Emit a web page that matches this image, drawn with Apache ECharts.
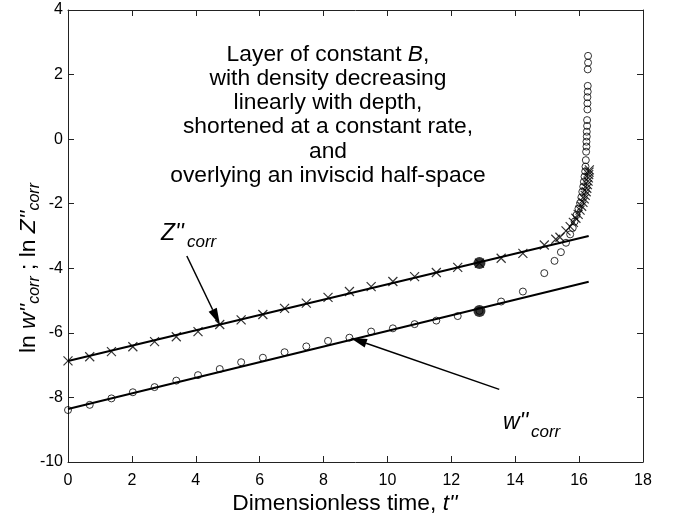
<!DOCTYPE html>
<html><head><meta charset="utf-8">
<script src="https://cdn.jsdelivr.net/npm/echarts@6/dist/echarts.min.js"></script>
<style>html,body{margin:0;padding:0;background:#fff}#c{width:675px;height:519px}</style>
</head><body><div id="c"></div>
<script>
// ---- data ----
const tW = [0,0.68,1.36,2.03,2.71,3.39,4.07,4.75,5.42,6.10,6.78,7.46,8.14,8.81,9.49,10.17,10.85,11.53,12.20,12.88,13.56,14.24,14.91,
  15.23,15.43,15.59,15.72,15.80,15.86,15.92,15.98,16.03,16.07,16.10,16.13,16.15,16.17,16.19,16.20,16.21,16.22,16.23,16.23,16.24,16.24,16.25,16.25,16.26,16.26,16.26,16.27,16.27,16.27,16.28,16.28];
const lnW = [-8.39,-8.23,-8.03,-7.84,-7.68,-7.48,-7.31,-7.12,-6.91,-6.77,-6.60,-6.42,-6.25,-6.15,-5.96,-5.86,-5.73,-5.62,-5.48,-5.32,-5.03,-4.72,-4.15,
  -3.77,-3.50,-3.21,-2.95,-2.75,-2.55,-2.35,-2.15,-1.98,-1.80,-1.63,-1.47,-1.32,-1.16,-1.00,-0.85,-0.65,-0.39,-0.23,-0.08,0.08,0.23,0.41,0.59,0.92,1.11,1.30,1.47,1.65,2.16,2.37,2.58];
const tZ = [0,0.68,1.36,2.03,2.71,3.39,4.07,4.75,5.42,6.10,6.78,7.46,8.14,8.81,9.49,10.17,10.85,11.53,12.20,12.88,13.56,14.24,14.91,
  15.27,15.40,15.59,15.72,15.82,15.90,15.97,16.03,16.08,16.12,16.16,16.19,16.22,16.24,16.26,16.28,16.29,16.30,16.31,16.32];
const lnZ = [-6.87,-6.74,-6.58,-6.43,-6.27,-6.12,-5.96,-5.74,-5.60,-5.43,-5.24,-5.08,-4.90,-4.72,-4.57,-4.41,-4.26,-4.13,-3.97,-3.84,-3.69,-3.54,-3.28,
  -3.10,-3.04,-2.84,-2.71,-2.58,-2.45,-2.33,-2.20,-2.08,-1.96,-1.85,-1.74,-1.63,-1.52,-1.41,-1.30,-1.20,-1.10,-1.02,-0.95];
const fitT = [0, 16.3];
const fitW = [-8.36, -4.42];
const fitZ = [-6.87, -3.0];
const dotT = [12.88, 12.88];
const dotV = [-3.84, -5.32];
const arrowZ = [[3.72, -3.62], [4.76, -5.76]];
const arrowW = [[13.5, -7.75], [8.83, -6.15]];
const noteLines = ['Layer of constant {i|B},', 'with density decreasing', 'linearly with depth,',
  'shortened at a constant rate,', 'and', 'overlying an inviscid half-space'];

// ---- chart ----
const FONT = '"Liberation Sans", Arial, Helvetica, sans-serif';
const pair = (xs, ys) => xs.map((x, i) => [x, ys[i]]);
const chart = echarts.init(document.getElementById('c'), null, {renderer: 'canvas'});
const axLine = {show: true, onZero: false, lineStyle: {color: '#222', width: 1}};
const tick = {show: true, inside: true, length: 6, lineStyle: {color: '#222', width: 1}};
const lbl = {color: '#000', fontSize: 16, fontFamily: FONT};
chart.setOption({
  animation: false,
  grid: {left: 68, right: 32, top: 10, bottom: 57},
  xAxis: [
    {type: 'value', min: 0, max: 18, interval: 2, axisLine: axLine, axisTick: tick,
     axisLabel: Object.assign({margin: 11}, lbl), splitLine: {show: false}},
    {type: 'value', position: 'top', min: 0, max: 18, interval: 2, axisLine: axLine, axisTick: tick,
     axisLabel: {show: false}, splitLine: {show: false}}
  ],
  yAxis: [
    {type: 'value', min: -10, max: 4, interval: 2, axisLine: axLine, axisTick: tick,
     axisLabel: Object.assign({margin: 5}, lbl), splitLine: {show: false}},
    {type: 'value', position: 'right', min: -10, max: 4, interval: 2, axisLine: axLine, axisTick: tick,
     axisLabel: {show: false}, splitLine: {show: false}}
  ],
  series: [
    {type: 'line', data: pair(fitT, fitZ), symbol: 'none', lineStyle: {color: '#000', width: 2}, z: 2},
    {type: 'line', data: pair(fitT, fitW), symbol: 'none', lineStyle: {color: '#000', width: 2}, z: 2},
    {type: 'scatter', data: pair(tZ, lnZ), symbol: 'path://M0,0L10,10M10,0L0,10', symbolSize: 9,
     itemStyle: {color: 'rgba(0,0,0,0)', borderColor: '#000', borderWidth: 1.2}, z: 3},
    {type: 'scatter', data: pair(tW, lnW), symbol: 'circle', symbolSize: 7,
     itemStyle: {color: 'rgba(0,0,0,0)', borderColor: '#000', borderWidth: 1}, z: 3},
    {type: 'scatter', data: pair(dotT, dotV), symbol: 'circle', symbolSize: 12,
     itemStyle: {color: '#000'}, z: 4}
  ]
});

function arrow(p0, p1, headLen, headW) {
  const a = chart.convertToPixel({gridIndex: 0}, p0);
  const b = chart.convertToPixel({gridIndex: 0}, p1);
  const dx = b[0] - a[0], dy = b[1] - a[1], L = Math.hypot(dx, dy);
  const ux = dx / L, uy = dy / L;
  const bx = b[0] - ux * headLen, by = b[1] - uy * headLen;
  const px = -uy * headW / 2, py = ux * headW / 2;
  return [
    {type: 'line', shape: {x1: a[0], y1: a[1], x2: bx, y2: by}, style: {stroke: '#000', lineWidth: 1.5}, z: 10},
    {type: 'polygon', shape: {points: [[b[0], b[1]], [bx + px, by + py], [bx - px, by - py]]}, style: {fill: '#000'}, z: 10}
  ];
}

const g = [];
noteLines.forEach((s, i) => {
  g.push({type: 'text', x: 328, y: 54.5 + i * 24.2, z: 10,
    style: {text: s, fontSize: 22.8, fontFamily: FONT, fill: '#000', align: 'center', verticalAlign: 'middle',
      rich: {i: {fontStyle: 'italic', fontSize: 22.8, fontFamily: FONT}}}});
});
// Z''corr label
g.push({type: 'text', x: 161, y: 234, z: 10,
  style: {text: "Z''", fontSize: 23, fontStyle: 'italic', fontFamily: FONT, fill: '#000', align: 'left', verticalAlign: 'middle'}});
g.push({type: 'text', x: 187, y: 242, z: 10,
  style: {text: 'corr', fontSize: 17, fontStyle: 'italic', fontFamily: FONT, fill: '#000', align: 'left', verticalAlign: 'middle'}});
// w''corr label
g.push({type: 'text', x: 503, y: 423, z: 10,
  style: {text: "w''", fontSize: 23, fontStyle: 'italic', fontFamily: FONT, fill: '#000', align: 'left', verticalAlign: 'middle'}});
g.push({type: 'text', x: 531, y: 432, z: 10,
  style: {text: 'corr', fontSize: 17, fontStyle: 'italic', fontFamily: FONT, fill: '#000', align: 'left', verticalAlign: 'middle'}});
// axis titles
g.push({type: 'text', x: 345, y: 504, z: 10,
  style: {text: "Dimensionless time, {i|t''}", fontSize: 22.8, fontFamily: FONT, fill: '#000', align: 'center', verticalAlign: 'middle',
    rich: {i: {fontStyle: 'italic', fontSize: 22.8, fontFamily: FONT}}}});
g.push({type: 'text', x: 29, y: 268, rotation: Math.PI / 2, z: 10,
  style: {text: "ln {i|w''}{s|corr} ; ln {i|Z''}{s|corr}", fontSize: 22.8, fontFamily: FONT, fill: '#000', align: 'center', verticalAlign: 'middle',
    rich: {i: {fontStyle: 'italic', fontSize: 22.8, fontFamily: FONT},
           s: {fontStyle: 'italic', fontSize: 16, fontFamily: FONT, padding: [12, 0, 0, 0]}}}});
arrow(arrowZ[0], arrowZ[1], 17, 9).forEach(e => g.push(e));
arrow(arrowW[0], arrowW[1], 17, 9).forEach(e => g.push(e));
chart.setOption({graphic: g});
</script>
</body></html>
